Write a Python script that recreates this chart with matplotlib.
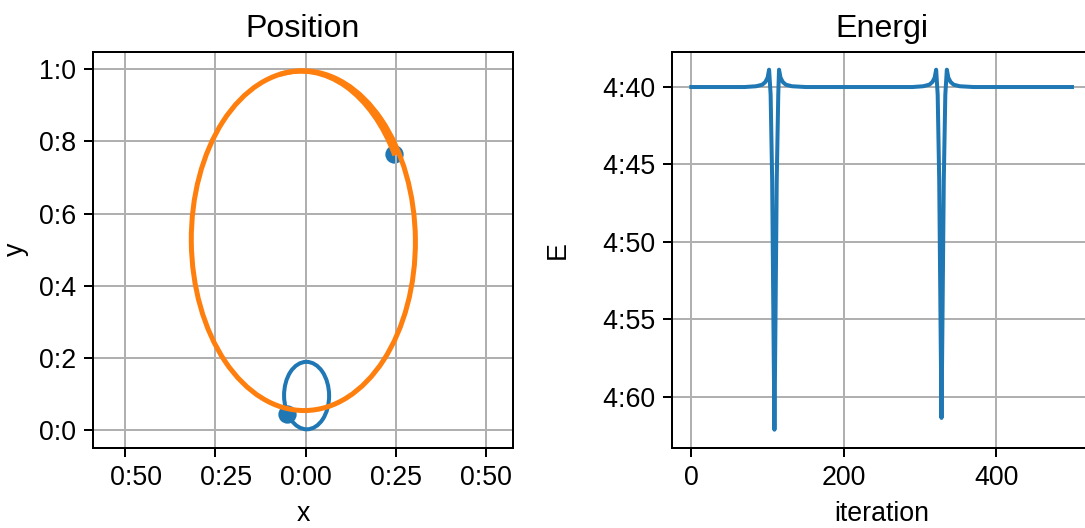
import matplotlib
matplotlib.use("Agg")
import matplotlib.pyplot as plt
from matplotlib.patches import Ellipse, Arc
from matplotlib.ticker import FuncFormatter, MultipleLocator

plt.rcParams["font.family"] = ["Liberation Sans", "DejaVu Sans"]
plt.rcParams["font.size"] = 10.7

# orbits as (centre x, centre y, width, height, tilt in degrees)
orbit1 = [0.003, 0.0955, 0.125, 0.187, 0.5]     # heavy body
orbit2 = [-0.006, 0.525, 0.622, 0.942, 0.5]     # light body
# last, slightly drifted pass of the light body: ellipse + start/end angle
tail2 = [-0.010, 0.525, 0.600, 0.940, 0.5]
tail2_span = [42, 97]

# final positions of both bodies
final_x = [-0.052, 0.246]
final_y = [0.044, 0.764]

# total energy per iteration
iteration = [0, 70, 85, 93, 97, 100, 102, 104, 106, 108, 109, 110, 112, 114,
             115, 117, 120, 124, 132, 150,
             290, 304, 312, 316, 319, 321, 323, 325, 327, 328, 329, 331, 333,
             335, 337, 340, 344, 352, 370, 499]
energy = [-4.4000, -4.4000, -4.3995, -4.3985, -4.3968, -4.3940, -4.3888,
          -4.4050, -4.4600, -4.5700, -4.6214, -4.5700, -4.4600, -4.4050,
          -4.3888, -4.3940, -4.3968, -4.3985, -4.3995, -4.4000,
          -4.4000, -4.3995, -4.3985, -4.3968, -4.3940, -4.3888, -4.4050,
          -4.4600, -4.5650, -4.6138, -4.5650, -4.4600, -4.4050, -4.3888,
          -4.3940, -4.3968, -4.3985, -4.3995, -4.4000, -4.4000]


def colon_fmt(decimals):
    # minus sign left blank, decimal point shown as colon
    def fmt(v, pos):
        s = f"{abs(v):.{decimals}f}".replace(".", ":")
        return ("   " + s) if v < -1e-9 else s
    return FuncFormatter(fmt)


fig = plt.figure(figsize=(1085 / 180, 528 / 180), dpi=180)
ax1 = fig.add_axes([0.0860, 0.1521, 0.3865, 0.75])
ax2 = fig.add_axes([0.6196, 0.1521, 0.3859, 0.75])

ax1.scatter(final_x, final_y, color="C0", s=40, zorder=1)
cx, cy, w, h, ang = orbit1
ax1.add_patch(Ellipse((cx, cy), w, h, angle=ang, fill=False, ec="C0", lw=1.6, zorder=2))
cx, cy, w, h, ang = orbit2
ax1.add_patch(Ellipse((cx, cy), w, h, angle=ang, fill=False, ec="C1", lw=2.0, zorder=2))
cx, cy, w, h, ang = tail2
ax1.add_patch(Arc((cx, cy), w, h, angle=ang, theta1=tail2_span[0],
                  theta2=tail2_span[1], ec="C1", lw=2.0, zorder=2))
ax1.set_xlim(-0.589, 0.575)
ax1.set_ylim(-0.049, 1.049)
ax1.xaxis.set_major_locator(MultipleLocator(0.25))
ax1.yaxis.set_major_locator(MultipleLocator(0.2))
ax1.xaxis.set_major_formatter(colon_fmt(2))
ax1.yaxis.set_major_formatter(colon_fmt(1))
ax1.set_xlabel("x")
ax1.set_ylabel("y")
ax1.set_title("Position")
ax1.grid(True)

ax2.plot(iteration, energy, color="C0", lw=1.6)
ax2.yaxis.set_major_locator(MultipleLocator(0.05))
ax2.yaxis.set_major_formatter(colon_fmt(2))
ax2.set_xlabel("iteration")
ax2.set_ylabel("E")
ax2.set_title("Energi")
ax2.grid(True)

fig.savefig("out.png", dpi=180)
